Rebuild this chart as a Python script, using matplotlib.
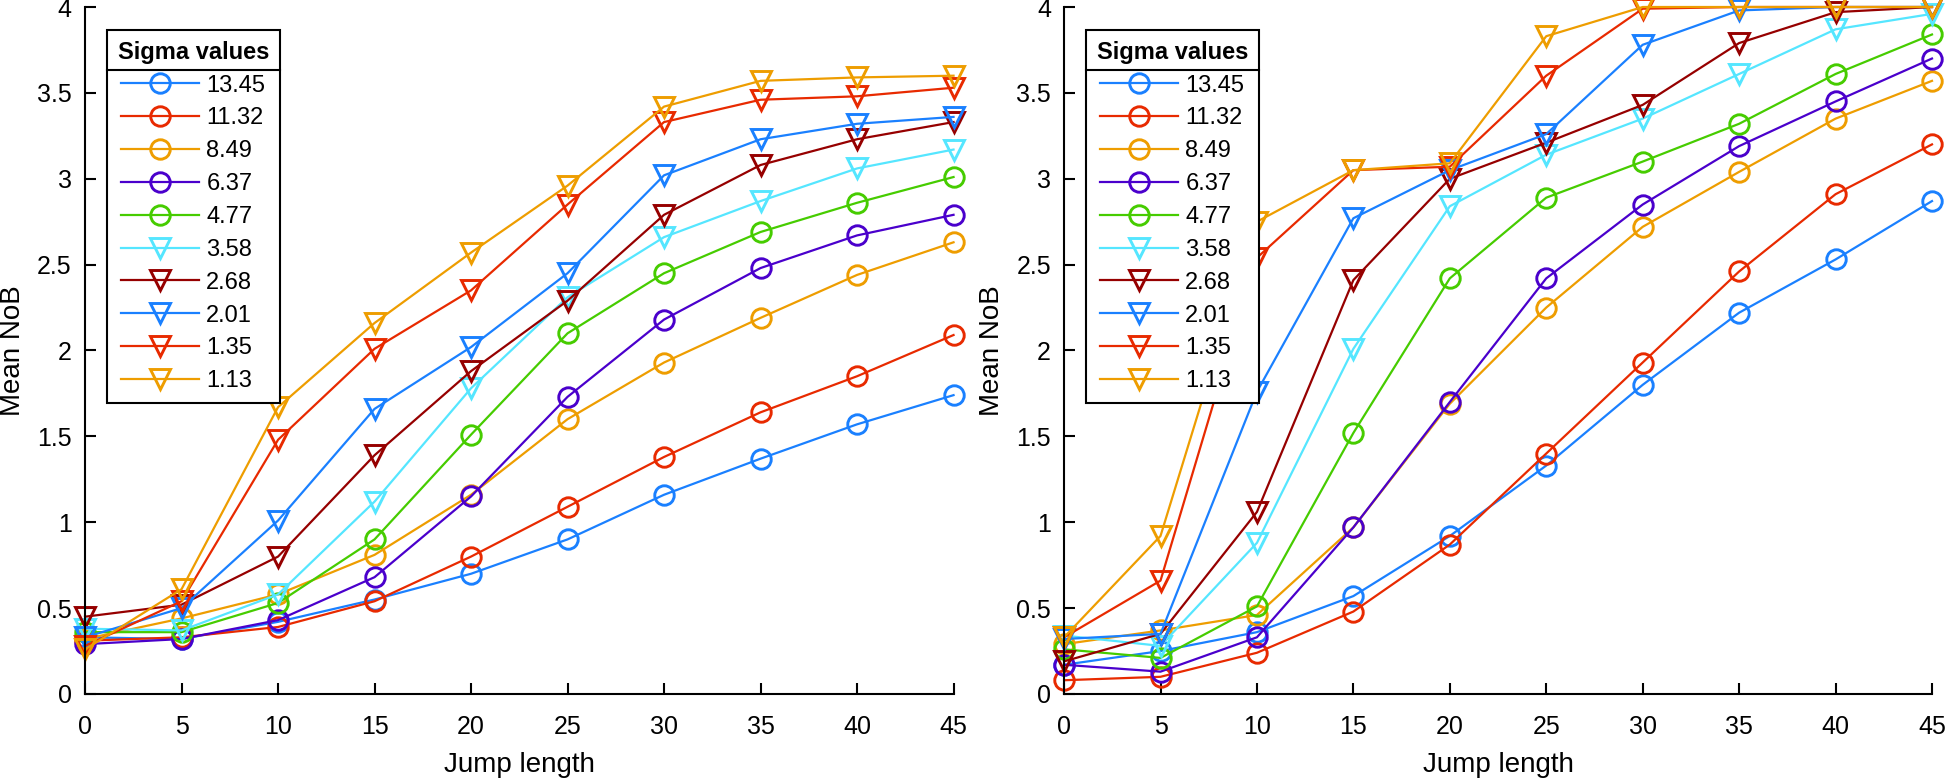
import numpy as np
import matplotlib.pyplot as plt
from matplotlib.lines import Line2D

plt.rcParams['font.family'] = ['Liberation Sans', 'DejaVu Sans']

jump = [0, 5, 10, 15, 20, 25, 30, 35, 40, 45]
sigmas = ['13.45', '11.32', '8.49', '6.37', '4.77', '3.58', '2.68', '2.01', '1.35', '1.13']

# left panel
left_nob = [
    [0.33, 0.32, 0.42, 0.55, 0.70, 0.90, 1.16, 1.37, 1.57, 1.74],
    [0.31, 0.33, 0.39, 0.54, 0.80, 1.09, 1.38, 1.64, 1.85, 2.09],
    [0.32, 0.44, 0.58, 0.81, 1.16, 1.60, 1.93, 2.19, 2.44, 2.63],
    [0.29, 0.32, 0.43, 0.68, 1.15, 1.73, 2.18, 2.48, 2.67, 2.79],
    [0.36, 0.36, 0.53, 0.90, 1.51, 2.10, 2.45, 2.69, 2.86, 3.01],
    [0.38, 0.37, 0.58, 1.12, 1.78, 2.31, 2.66, 2.87, 3.06, 3.17],
    [0.45, 0.52, 0.80, 1.39, 1.88, 2.29, 2.79, 3.08, 3.23, 3.33],
    [0.33, 0.50, 1.01, 1.66, 2.02, 2.45, 3.02, 3.23, 3.32, 3.36],
    [0.28, 0.54, 1.48, 2.01, 2.35, 2.85, 3.33, 3.46, 3.48, 3.53],
    [0.26, 0.61, 1.67, 2.16, 2.57, 2.96, 3.42, 3.57, 3.59, 3.60],
]

# right panel
right_nob = [
    [0.17, 0.25, 0.36, 0.57, 0.92, 1.33, 1.80, 2.22, 2.53, 2.87],
    [0.08, 0.10, 0.24, 0.48, 0.87, 1.40, 1.93, 2.46, 2.91, 3.20],
    [0.29, 0.37, 0.46, 0.97, 1.69, 2.25, 2.72, 3.04, 3.35, 3.57],
    [0.17, 0.13, 0.33, 0.97, 1.70, 2.42, 2.85, 3.19, 3.45, 3.70],
    [0.26, 0.21, 0.51, 1.52, 2.42, 2.89, 3.10, 3.32, 3.61, 3.84],
    [0.34, 0.28, 0.88, 2.01, 2.84, 3.14, 3.35, 3.61, 3.87, 3.96],
    [0.19, 0.35, 1.06, 2.41, 3.00, 3.21, 3.43, 3.79, 3.97, 4.00],
    [0.32, 0.35, 1.76, 2.77, 3.05, 3.26, 3.78, 3.98, 4.00, 4.00],
    [0.33, 0.66, 2.54, 3.05, 3.07, 3.60, 3.99, 4.00, 4.00, 4.00],
    [0.33, 0.92, 2.75, 3.05, 3.09, 3.83, 4.00, 4.00, 4.00, 4.00],
]

colors = ['#1a80ff', '#e82a00', '#ee9d00', '#4a00cc', '#46cc00',
          '#55e6ff', '#960000', '#1a80ff', '#e82a00', '#ee9d00']
markers = ['o'] * 5 + ['v'] * 5

fig = plt.figure(figsize=(19.46, 7.78), dpi=100)
ax1 = fig.add_axes([0.0437, 0.108, 0.4463, 0.883])
ax2 = fig.add_axes([0.5468, 0.108, 0.446, 0.883])

legends = []
for ax, data in [(ax1, left_nob), (ax2, right_nob)]:
    for i in range(len(sigmas)):
        ax.plot(jump, data[i], color=colors[i], marker=markers[i], markersize=14,
                markerfacecolor='none', markeredgewidth=2.1, linewidth=1.6,
                label=sigmas[i], clip_on=False)
    ax.set_xlim(0, 45)
    ax.set_ylim(0, 4)
    ax.set_xticks(jump)
    ax.set_yticks(np.arange(0, 4.01, 0.5))
    ax.yaxis.set_major_formatter(plt.FormatStrFormatter('%g'))
    ax.spines['top'].set_visible(False)
    ax.spines['right'].set_visible(False)
    ax.spines['left'].set_linewidth(1.5)
    ax.spines['bottom'].set_linewidth(1.5)
    ax.tick_params(direction='in', length=8, width=1.5, labelsize=18)
    ax.tick_params(axis='x', pad=15)
    ax.tick_params(axis='y', pad=9.5)
    ax.set_xlabel('Jump length', fontsize=20)
    ax.xaxis.set_label_coords(0.5, -0.0844)
    ax.set_ylabel('Mean NoB', fontsize=20)
    ax.yaxis.set_label_coords(-0.0675, 0.5)
    leg = ax.legend(loc='upper left', bbox_to_anchor=(0.0253, 0.9665), borderaxespad=0,
                    title='Sigma values', fontsize=17,
                    title_fontproperties={'weight': 'bold', 'size': 17},
                    frameon=True, fancybox=False, edgecolor='black', framealpha=1,
                    handlelength=3.3, labelspacing=0.46, borderpad=0.45, handletextpad=0.3)
    leg.get_frame().set_linewidth(1.5)
    legends.append(leg)

# separator line under the legend title
fig.canvas.draw()
inv = fig.transFigure.inverted()
for leg in legends:
    bb = leg.get_window_extent()
    tb = leg.get_title().get_window_extent()
    y = tb.y0 - 6
    (x0, yy), (x1, _) = inv.transform([(bb.x0, y), (bb.x1, y)])
    fig.add_artist(Line2D([x0, x1], [yy, yy], transform=fig.transFigure,
                          color='black', linewidth=1.5))

fig.savefig('out.png', dpi=100)
